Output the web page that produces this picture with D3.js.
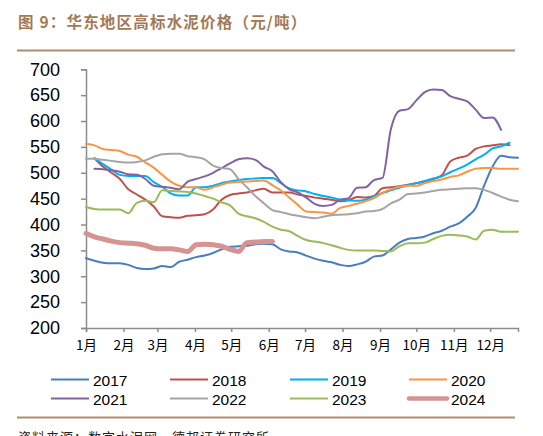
<!DOCTYPE html>
<html><head><meta charset="utf-8">
<script src="https://cdn.jsdelivr.net/npm/d3@7"></script>
<style>html,body{margin:0;padding:0;background:#fff;}svg{display:block;}</style>
</head><body>
<svg id="c" width="543" height="436"></svg>
<script>
// ---- data (weekly observations; week index -> day of year = 7*i) ----
const years = ["2017","2018","2019","2020","2021","2022","2023","2024"];
const monthLabels = ["1月","2月","3月","4月","5月","6月","7月","8月","9月","10月","11月","12月"];
const monthStartDays = [0,31,59,90,120,151,181,212,243,273,304,334];
const yTicks = [200,250,300,350,400,450,500,550,600,650,700];

const s2017 = [335,330,326,325,325,322,316,314,315,320,318,328,332,337,340,345,352,357,358,359,362,363,362,352,348,346,340,334,330,327,322,320,323,328,338,340,352,365,372,374,377,383,388,396,402,415,432,475,512,533,530,529];
const s2018 = [null,528,512,500,488,468,458,448,435,416,414,413,417,418,420,429,448,457,460,462,466,469,462,462,462,458,455,452,450,448,445,447,453,452,455,470,472,474,477,480,483,488,495,522,529,533,546,551,553,555,553];
const s2019 = [null,528,517,506,496,494,494,494,482,473,460,456,456,472,472,475,480,483,486,488,489,490,490,480,470,466,464,459,455,452,448,447,446,448,455,461,466,471,476,480,484,489,493,501,508,516,526,535,547,551,558];
const s2020 = [556,553,546,544,542,535,531,520,510,496,483,475,472,472,467,472,477,481,482,483,484,485,476,466,452,438,425,424,423,421,432,436,440,445,451,461,468,473,475,475,480,484,487,492,495,502,508,509,509,508,508,508];
const s2021 = [null,508,507,505,502,497,496,488,475,473,471,468,483,488,493,500,509,518,526,528,525,512,503,482,468,462,452,440,436,438,448,451,471,472,486,490,585,620,623,640,656,661,660,648,643,638,622,606,607,583];
const s2022 = [527,527,525,523,521,520,521,524,531,536,537,537,532,530,526,514,509,507,488,472,455,441,428,424,420,417,414,412,415,418,419,420,422,425,426,430,441,448,459,460,462,465,467,468,469,470,470,467,461,454,448,445];
const s2023 = [434,430,429,429,429,422,442,446,443,466,465,464,463,460,455,450,443,437,421,416,412,405,396,390,387,378,370,367,364,360,355,351,350,350,350,349,348,358,364,364,365,372,378,380,379,377,371,388,390,386,386,386];
const s2024 = [383,376,372,368,365,364,363,360,354,353,353,351,348,361,362,361,358,352,348,365,366,367,367];
const seriesValues = [s2017,s2018,s2019,s2020,s2021,s2022,s2023,s2024];

// ---- styles ----
const colors = ["#4a7ebb","#c0504d","#00b0f0","#f79646","#8064a2","#a5a5a5","#9bbb59","#d59492"];
const widths = [2,2,2,2,2,2,2,5];

const svg = d3.select("#c");
const x = d3.scaleLinear().domain([0,357]).range([86,518]);
const y = d3.scaleLinear().domain([200,700]).range([328,69.3]);

// Title
svg.append("text").attr("x",18).attr("y",28)
  .attr("font-family","'Noto Sans CJK SC'").attr("font-weight","bold")
  .attr("font-size",15.5).attr("fill","#a27a58").attr("letter-spacing",1.2)
  .text("图 9：华东地区高标水泥价格（元/吨）");
svg.append("line").attr("x1",17).attr("x2",515).attr("y1",50.5).attr("y2",50.5)
  .attr("stroke","#b08d6e").attr("stroke-width",2);

// Y axis
const axisColor = "#8c8c8c";
const gy = svg.append("g").attr("transform","translate(86,0)")
  .call(d3.axisLeft(y).tickValues(yTicks).tickSize(5).tickPadding(6).tickFormat(d3.format("d")));
gy.select(".domain").attr("stroke",axisColor).attr("stroke-width",1.5);
gy.selectAll(".tick line").attr("stroke",axisColor).attr("stroke-width",1.5);
gy.selectAll(".tick text").attr("font-family","'Liberation Sans',Arial,sans-serif")
  .attr("font-size",18).attr("fill","#000").attr("x",-26).attr("text-anchor","end");

// X axis
const gx = svg.append("g").attr("transform","translate(0,328)")
  .call(d3.axisBottom(x).tickValues(monthStartDays).tickSize(4).tickPadding(8)
    .tickFormat((d,i)=>monthLabels[i]));
gx.select(".domain").attr("stroke",axisColor).attr("stroke-width",1.5);
gx.selectAll(".tick line").attr("stroke",axisColor).attr("stroke-width",1.5);
gx.selectAll(".tick text").attr("font-family","'Noto Sans CJK SC'")
  .attr("font-size",13.5).attr("fill","#000");

// Lines
const line = d3.line()
  .defined(d=>d.v!=null)
  .x(d=>x(d.day)).y(d=>y(d.v))
  .curve(d3.curveMonotoneX);
seriesValues.forEach((vals,k)=>{
  const pts = vals.map((v,i)=>({day:7*i,v:v}));
  svg.append("path").datum(pts)
    .attr("fill","none").attr("stroke",colors[k]).attr("stroke-width",widths[k])
    .attr("stroke-linejoin","round").attr("stroke-linecap","round")
    .attr("d",line);
});

// Legend
const colX = [51,170,290,409], rowY = [379.5,398.5];
years.forEach((yr,k)=>{
  const cx = colX[k%4], cy = rowY[Math.floor(k/4)];
  svg.append("line").attr("x1",cx).attr("x2",cx+38).attr("y1",cy).attr("y2",cy)
    .attr("stroke",colors[k]).attr("stroke-width",widths[k]===5?4.5:2)
    .attr("stroke-linecap",widths[k]===5?"round":"butt");
  svg.append("text").attr("x",cx+42).attr("y",cy+6)
    .attr("font-family","'Liberation Sans',Arial,sans-serif").attr("font-size",15.5)
    .attr("fill","#000").text(yr);
});

// Bottom rule and source
svg.append("line").attr("x1",17).attr("x2",515).attr("y1",417.5).attr("y2",417.5)
  .attr("stroke","#b08d6e").attr("stroke-width",2);
svg.append("text").attr("x",18).attr("y",442)
  .attr("font-family","'Noto Sans CJK SC'").attr("font-size",13).attr("fill","#222")
  .attr("letter-spacing",1)
  .text("资料来源：数字水泥网，德邦证券研究所");
</script>
</body></html>
